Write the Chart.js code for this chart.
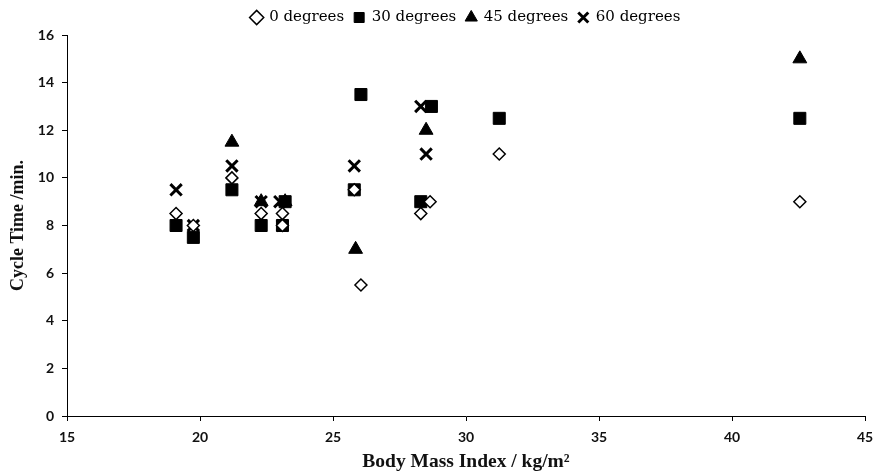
<!DOCTYPE html>
<html><head><meta charset="utf-8">
<script src="https://cdn.jsdelivr.net/npm/chart.js@4"></script>
<style>html,body{margin:0;padding:0;background:#fff}#wrap{width:876px;height:475px}</style>
</head><body><div id="wrap"><canvas id="c" width="876" height="475"></canvas></div>
<script>
const seriesNames = ['0 degrees','30 degrees','45 degrees','60 degrees'];
const bmi0  = [19.1, 19.75, 21.2, 22.3, 23.1, 23.1, 25.8, 26.05, 28.3, 28.65, 31.25, 42.55];
const time0 = [8.5,  8,     10,   8.5,  8.5,  8,    9.5,  5.5,   8.5,  9,     11,    9];
const bmi30  = [19.1, 19.75, 21.2, 22.3, 23.2, 23.1, 25.8, 26.05, 28.3, 28.7, 31.25, 42.55];
const time30 = [8,    7.5,   9.5,  8,    9,    8,    9.5,  13.5,  9,    13,   12.5,  12.5];
const bmi45  = [21.2, 22.3, 23.2, 25.85, 28.5, 42.55];
const time45 = [11.5, 9,    9,    7,     12,   15];
const bmi60  = [19.1, 19.75, 21.2, 22.3, 23.0, 23.1, 25.8, 28.3, 28.5];
const time60 = [9.5,  8,     10.5, 9,    9,    8,    10.5, 13,   11];
const xTicks = [15,20,25,30,35,40,45];
const yTicks = [0,2,4,6,8,10,12,14,16];

const pts = (xs, ys) => xs.map((x,i)=>({x, y: ys[i]}));
const tickFont = {family:'Lato, "Open Sans", sans-serif', size:14, weight:'bold'};
const yTitleFont = {family:'"Liberation Serif", "Times New Roman", serif', size:18, weight:'bold'};
const xTitleFont = {family:'"Liberation Serif", "Times New Roman", serif', size:19.5, weight:'bold'};

new Chart(document.getElementById('c'), {
  type: 'scatter',
  data: {
    datasets: [
      {label: seriesNames[0], data: pts(bmi0,time0), pointStyle:'rectRot', pointRadius:6, pointHoverRadius:6,
       backgroundColor:'#fff', borderColor:'#000', borderWidth:1.5},
      {label: seriesNames[1], data: pts(bmi30,time30), pointStyle:'rect', pointRadius:8.5, pointHoverRadius:8.5,
       backgroundColor:'#000', borderColor:'#000', borderWidth:1},
      {label: seriesNames[2], data: pts(bmi45,time45), pointStyle:'triangle', pointRadius:8, pointHoverRadius:8,
       backgroundColor:'#000', borderColor:'#000', borderWidth:1},
      {label: seriesNames[3], data: pts(bmi60,time60), pointStyle:'crossRot', pointRadius:8, pointHoverRadius:8,
       backgroundColor:'#000', borderColor:'#000', borderWidth:3}
    ]
  },
  options: {
    responsive:false, animation:false, devicePixelRatio:1,
    layout:{padding:{top:0,right:0,left:0,bottom:0}},
    plugins:{
      tooltip:{enabled:false},
      legend:{
        position:'top', fullSize:false,
        labels:{usePointStyle:true, boxWidth:10, boxHeight:10, padding:10, color:'#000',
          font:{family:'"DejaVu Serif", serif', size:15}}
      }
    },
    scales:{
      x:{type:'linear', min:15, max:45,
        afterBuildTicks: s => { s.ticks = xTicks.map(v=>({value:v})); },
        afterFit: s => { s.height = 59; s.paddingRight = 10; s.paddingLeft = 0; },
        border:{display:true, color:'#000', width:1},
        grid:{display:true, drawOnChartArea:false, drawTicks:true, tickLength:5, color:'#000'},
        ticks:{color:'#111', font:tickFont, padding:8, maxRotation:0},
        title:{display:true, text:'Body Mass Index / kg/m²', color:'#111', font:xTitleFont, padding:{top:0,bottom:1}}
      },
      y:{type:'linear', min:0, max:16,
        afterBuildTicks: s => { s.ticks = yTicks.map(v=>({value:v})); },
        afterFit: s => { s.width = 67; },
        border:{display:true, color:'#000', width:1},
        grid:{display:true, drawOnChartArea:false, drawTicks:true, tickLength:5, color:'#000'},
        ticks:{color:'#111', font:tickFont, padding:8},
        title:{display:true, text:'Cycle Time /min.', color:'#111', font:yTitleFont, padding:{top:8,bottom:0}}
      }
    }
  }
});
</script></body></html>
